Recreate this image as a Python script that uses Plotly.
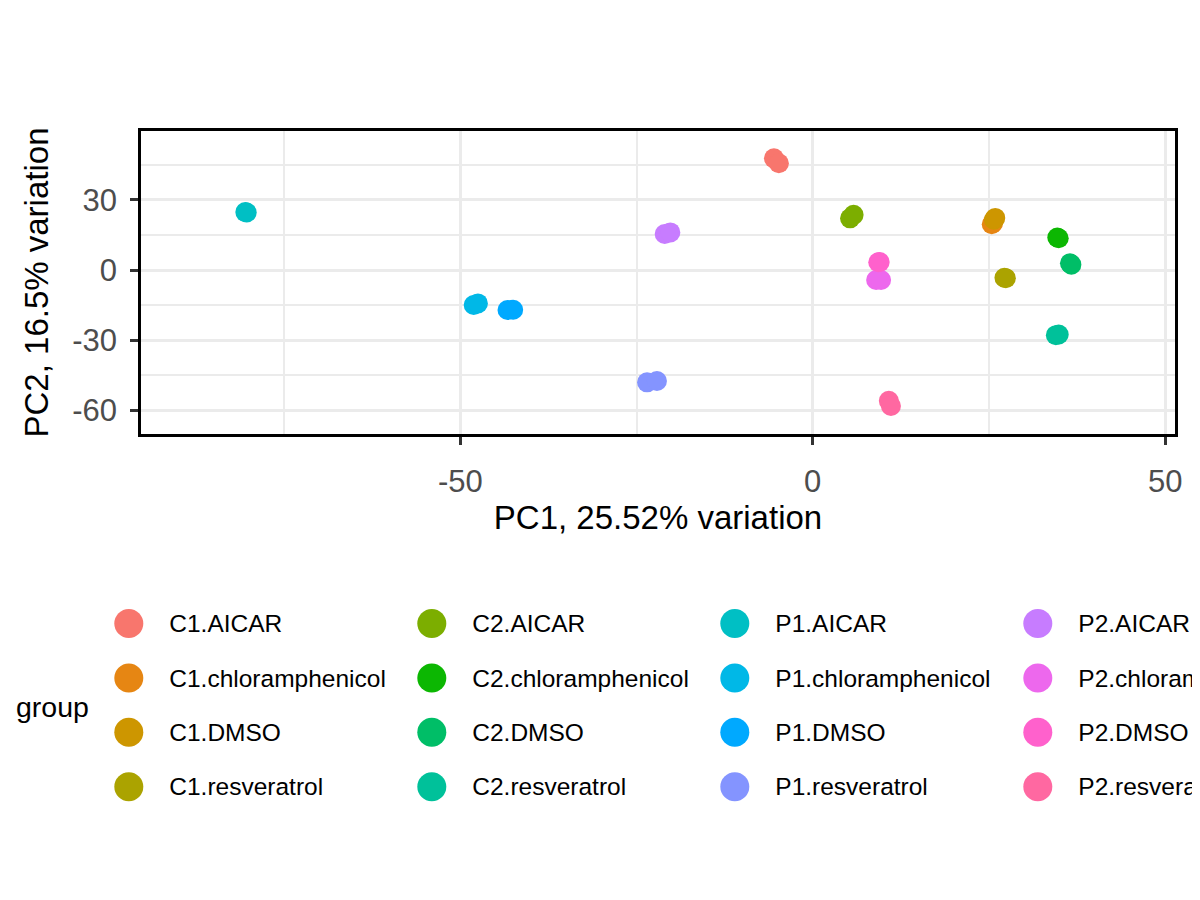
import math
import plotly.graph_objects as go

# PCA scores (two replicates per group)
groups = ["C1.AICAR", "C1.chloramphenicol", "C1.DMSO", "C1.resveratrol",
          "C2.AICAR", "C2.chloramphenicol", "C2.DMSO", "C2.resveratrol",
          "P1.AICAR", "P1.chloramphenicol", "P1.DMSO", "P1.resveratrol",
          "P2.AICAR", "P2.chloramphenicol", "P2.DMSO", "P2.resveratrol"]
pc1 = [[-5.5, -4.8], [25.4, 25.6], [25.7, 25.9], [27.2, 27.4],
       [5.3, 5.8], [34.7, 34.9], [36.5, 36.7], [34.5, 34.9],
       [-80.5, -80.3], [-48.1, -47.5], [-43.3, -42.5], [-23.5, -22.1],
       [-21.0, -20.2], [9.0, 9.7], [9.3, 9.5], [10.8, 11.1]]
pc2 = [[47.8, 45.7], [19.6, 20.2], [21.5, 22.3], [-3.3, -3.5],
       [22.1, 23.6], [13.9, 13.6], [2.9, 2.3], [-27.9, -27.6],
       [24.8, 24.6], [-15.0, -14.3], [-17.1, -17.0], [-48.1, -47.5],
       [15.4, 16.1], [-4.3, -4.3], [3.3, 3.4], [-56.0, -58.2]]
x_ticks = [-50, 0, 50]
x_minor = [-75, -25, 25]
y_ticks = [-60, -30, 0, 30]
y_minor = [-45, -15, 15, 45]
legend_rows = 4

# the page body has an 8px margin; size the figure so the page does not
# scroll, and give positions below in screen pixels
PAD = 8
W, H = 1200 - PAD, 900 - 2 * PAD


def fx(px):
    return (px - PAD) / W


def fy(py):
    return (PAD + H - py) / H


def hue_pal(n, h0=15, h1=375, c=100, l=65):
    # ggplot2 default discrete palette (HCL -> sRGB)
    out = []
    xn, yn, zn = 95.047, 100.0, 108.883
    un = 4 * xn / (xn + 15 * yn + 3 * zn)
    vn = 9 * yn / (xn + 15 * yn + 3 * zn)
    for i in range(n):
        h = math.radians(h0 + (h1 - h0) * i / n)
        u, v = c * math.cos(h), c * math.sin(h)
        Y = yn * ((l + 16) / 116) ** 3
        up, vp = u / (13 * l) + un, v / (13 * l) + vn
        X = 9 * Y * up / (4 * vp)
        Z = Y * (12 - 3 * up - 20 * vp) / (4 * vp)
        X, Y, Z = X / 100, Y / 100, Z / 100
        rgb = [3.2404542 * X - 1.5371385 * Y - 0.4985314 * Z,
               -0.9692660 * X + 1.8760108 * Y + 0.0415560 * Z,
               0.0556434 * X - 0.2040259 * Y + 1.0572252 * Z]
        hexs = ""
        for ch in rgb:
            ch = 12.92 * ch if ch <= 0.0031308 else 1.055 * ch ** (1 / 2.4) - 0.055
            hexs += "%02X" % round(min(max(ch, 0), 1) * 255)
        out.append("#" + hexs)
    return out


colors = hue_pal(len(groups))
FONT = "Liberation Sans"

fig = go.Figure()

for g, xs, ys, col in zip(groups, pc1, pc2, colors):
    fig.add_trace(go.Scatter(x=xs, y=ys, mode="markers", name=g,
                             marker=dict(size=20, color=col, line=dict(width=0)),
                             showlegend=False, xaxis="x", yaxis="y"))

# legend drawn as its own little grid (column-major, like ggplot)
leg_col = [i // legend_rows for i in range(len(groups))]
leg_row = [i % legend_rows for i in range(len(groups))]
col_step, row_step = 303, 54.4
fig.add_trace(go.Scatter(x=leg_col, y=leg_row, mode="markers",
                         marker=dict(size=29, color=colors, line=dict(width=0)),
                         showlegend=False, hoverinfo="skip", xaxis="x2", yaxis="y2"))
fig.add_trace(go.Scatter(x=[c + 40.5 / col_step for c in leg_col],
                         y=[r + 2.5 / row_step for r in leg_row],
                         mode="text", text=groups, textposition="middle right",
                         textfont=dict(family=FONT, size=24.5, color="black"),
                         cliponaxis=False,
                         showlegend=False, hoverinfo="skip", xaxis="x2", yaxis="y2"))

grid = "#EBEBEB"
axis_common = dict(showline=True, mirror=True, linecolor="black", linewidth=2.5,
                   ticks="outside", ticklen=8, tickwidth=3, tickcolor="#333333",
                   showgrid=True, gridcolor=grid, gridwidth=3, zeroline=False,
                   tickfont=dict(family=FONT, size=31, color="#4D4D4D"))

leg_x0 = 128.8 - PAD   # first legend column, figure px
leg_y0 = 623.5 - PAD   # first legend row, figure px

fig.update_layout(
    width=W, height=H,
    margin=dict(l=0, r=0, t=0, b=0, autoexpand=False),
    paper_bgcolor="white", plot_bgcolor="rgba(0,0,0,0)",
    font=dict(family=FONT, color="black"),
    xaxis=dict(axis_common, domain=[fx(141), fx(1175)], range=[-95.3, 51.4],
               tickmode="array", tickvals=x_ticks, ticktext=[str(v) for v in x_ticks],
               ticklabelstandoff=10,
               minor=dict(tickvals=x_minor, showgrid=True, gridcolor=grid, gridwidth=1.5, ticks=""),
               title=dict(text="PC1, 25.52% variation", standoff=1,
                          font=dict(family=FONT, size=33, color="black")),
               anchor="y"),
    yaxis=dict(axis_common, domain=[fy(434), fy(131)], range=[-70.2, 59.5],
               tickmode="array", tickvals=y_ticks, ticktext=[str(v) for v in y_ticks],
               ticklabelstandoff=7,
               minor=dict(tickvals=y_minor, showgrid=True, gridcolor=grid, gridwidth=1.5, ticks=""),
               title=dict(text="PC2, 16.5% variation", standoff=14,
                          font=dict(family=FONT, size=33, color="black")),
               anchor="x"),
    xaxis2=dict(domain=[0, 1], range=[-leg_x0 / col_step, (W - leg_x0) / col_step],
                visible=False, anchor="y2", fixedrange=True),
    yaxis2=dict(domain=[0, 1], range=[(H - leg_y0) / row_step, -leg_y0 / row_step],
                visible=False, anchor="x2", fixedrange=True),
    annotations=[dict(text="group", x=fx(14), y=fy(706.7), xref="paper", yref="paper",
                      xanchor="left", yanchor="middle", showarrow=False,
                      font=dict(family=FONT, size=28.5, color="black"))],
)

fig.write_html("out.html")
